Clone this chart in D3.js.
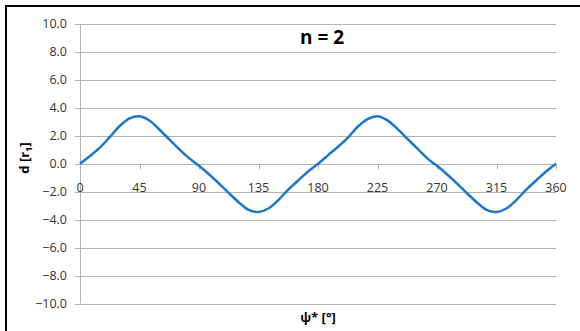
<!DOCTYPE html>
<html>
<head>
<meta charset="utf-8">
<script src="https://cdn.jsdelivr.net/npm/d3@7"></script>
<style>
  body { margin: 0; background: #fff; }
  text { font-family: "Open Sans", "Liberation Sans", sans-serif; }
</style>
</head>
<body>
<div id="chart"></div>
<script>
// Chart data
var psi = [0, 7.5, 15, 22.5, 30, 37.5, 45, 52.5, 60, 67.5, 75, 82.5, 90,
  97.5, 105, 112.5, 120, 127.5, 135, 142.5, 150, 157.5, 165, 172.5, 180,
  187.5, 195, 202.5, 210, 217.5, 225, 232.5, 240, 247.5, 255, 262.5, 270,
  277.5, 285, 292.5, 300, 307.5, 315, 322.5, 330, 337.5, 345, 352.5, 360];
var dVals = [0, 0.55, 1.15, 1.9, 2.7, 3.25, 3.4, 3.1, 2.45, 1.75, 1.05, 0.4, -0.15,
  -0.75, -1.4, -2.1, -2.75, -3.3, -3.45, -3.2, -2.6, -1.85, -1.2, -0.55, 0.0,
  0.6, 1.2, 1.85, 2.65, 3.2, 3.4, 3.1, 2.5, 1.8, 1.1, 0.4, -0.15,
  -0.75, -1.4, -2.1, -2.75, -3.3, -3.45, -3.2, -2.6, -1.85, -1.2, -0.55, 0.0];
var xTicks = [0, 45, 90, 135, 180, 225, 270, 315, 360];
var yTicks = [-10, -8, -6, -4, -2, 0, 2, 4, 6, 8, 10];

var svgWidth = 580;
var svgHeight = 331;

var svg = d3.select("#chart")
  .append("svg")
  .attr("width", svgWidth)
  .attr("height", svgHeight);

// outer chart border
svg.append("rect")
  .attr("x", 6).attr("y", 6)
  .attr("width", 600).attr("height", 400)
  .attr("fill", "none")
  .attr("stroke", "#000")
  .attr("stroke-width", 2);

var xScale = d3.scaleLinear().domain([0, 360]).range([80, 556]);
var yScale = d3.scaleLinear().domain([-10, 10]).range([303.5, 24]);

// gridlines
svg.append("g")
  .selectAll("line")
  .data(yTicks)
  .enter()
  .append("line")
  .attr("x1", 75)
  .attr("x2", xScale(360))
  .attr("y1", d => Math.round(yScale(d)) + 0.5)
  .attr("y2", d => Math.round(yScale(d)) + 0.5)
  .attr("stroke", "#b3b3b3")
  .attr("stroke-width", 1);

// left axis line
svg.append("line")
  .attr("x1", 80.5).attr("x2", 80.5)
  .attr("y1", yScale(10)).attr("y2", yScale(-10))
  .attr("stroke", "#b3b3b3");

// y tick labels
svg.append("g")
  .selectAll("text")
  .data(yTicks)
  .enter()
  .append("text")
  .attr("x", 67)
  .attr("y", d => yScale(d))
  .attr("dy", "0.35em")
  .attr("text-anchor", "end")
  .attr("font-size", 12.5)
  .attr("fill", "#333")
  .text(d => d3.format(".1f")(d));

// x ticks on zero line
var zeroY = Math.round(yScale(0)) + 0.5;
svg.append("g")
  .selectAll("line")
  .data(xTicks)
  .enter()
  .append("line")
  .attr("x1", d => Math.round(xScale(d)) + 0.5)
  .attr("x2", d => Math.round(xScale(d)) + 0.5)
  .attr("y1", zeroY)
  .attr("y2", zeroY + 5)
  .attr("stroke", "#b3b3b3");

svg.append("g")
  .selectAll("text")
  .data(xTicks)
  .enter()
  .append("text")
  .attr("x", d => xScale(d))
  .attr("y", zeroY + 27)
  .attr("text-anchor", "middle")
  .attr("font-size", 12.5)
  .attr("fill", "#333")
  .text(d => d);

// the curve
var line = d3.line()
  .x((d, i) => xScale(psi[i]))
  .y(d => yScale(d))
  .curve(d3.curveCatmullRom);

svg.append("path")
  .datum(dVals)
  .attr("d", line)
  .attr("fill", "none")
  .attr("stroke", "#1f77c4")
  .attr("stroke-width", 2.5);

// title
svg.append("text")
  .attr("x", 322)
  .attr("y", 44)
  .attr("text-anchor", "middle")
  .attr("font-size", 19)
  .attr("font-weight", "bold")
  .attr("fill", "#000")
  .text("n = 2");

// axis titles
var yLab = svg.append("text")
  .attr("transform", "translate(29,158) rotate(-90)")
  .attr("text-anchor", "middle")
  .attr("font-size", 13)
  .attr("font-weight", "bold")
  .attr("fill", "#000");
yLab.append("tspan").text("d [r");
yLab.append("tspan").attr("font-size", 9).attr("dy", 3).text("1");
yLab.append("tspan").attr("dy", -3).text("]");

svg.append("text")
  .attr("x", 318)
  .attr("y", 322)
  .attr("text-anchor", "middle")
  .attr("font-size", 13)
  .attr("font-weight", "bold")
  .attr("fill", "#000")
  .text("ψ* [°]");
</script>
</body>
</html>
